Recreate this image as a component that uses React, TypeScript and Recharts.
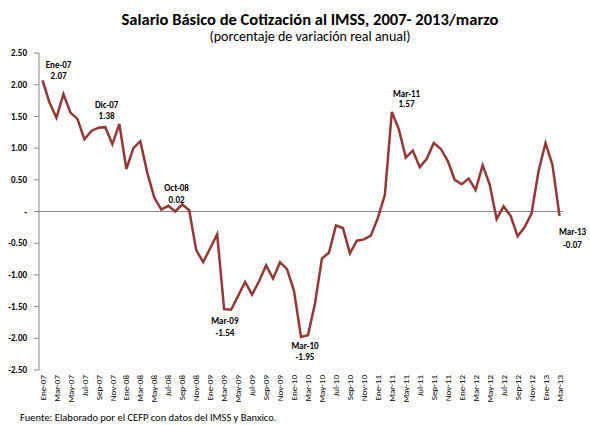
import React from "react";
import { LineChart, Line, XAxis, YAxis, ReferenceLine, LabelList } from "recharts";

const years = ["07", "08", "09", "10", "11", "12", "13"];
const monthNames = ["Ene", "Feb", "Mar", "Abr", "May", "Jun", "Jul", "Ago", "Sep", "Oct", "Nov", "Dic"];

const values2007 = [2.07, 1.72, 1.48, 1.85, 1.56, 1.46, 1.14, 1.27, 1.32, 1.33, 1.06, 1.38];
const values2008 = [0.67, 1.0, 1.11, 0.61, 0.22, 0.03, 0.09, 0.0, 0.11, 0.02, -0.61, -0.8];
const values2009 = [-0.58, -0.36, -1.54, -1.55, -1.33, -1.11, -1.31, -1.1, -0.85, -1.06, -0.8, -0.91];
const values2010 = [-1.25, -1.98, -1.95, -1.45, -0.74, -0.65, -0.22, -0.26, -0.66, -0.46, -0.44, -0.38];
const values2011 = [-0.1, 0.26, 1.57, 1.3, 0.85, 0.96, 0.7, 0.83, 1.08, 0.99, 0.8, 0.5];
const values2012 = [0.43, 0.52, 0.34, 0.73, 0.43, -0.12, 0.08, -0.07, -0.39, -0.25, -0.03, 0.64];
const values2013 = [1.08, 0.73, -0.07];

const yearValues = [values2007, values2008, values2009, values2010, values2011, values2012, values2013];

const yTicks = [2.5, 2.0, 1.5, 1.0, 0.5, 0, -0.5, -1.0, -1.5, -2.0, -2.5];

const labeledMonths = ["Ene-07", "Dic-07", "Oct-08", "Mar-09", "Mar-10", "Mar-11", "Mar-13"];

// label placement offsets (styling only)
const labelOffsets: Record<string, { dx: number; dy1: number; dy2: number }> = {
  "Ene-07": { dx: 16, dy1: -16, dy2: -5 },
  "Dic-07": { dx: -12.7, dy1: -20, dy2: -8.7 },
  "Oct-08": { dx: -12.6, dy1: -22.5, dy2: -11 },
  "Mar-09": { dx: 0.7, dy1: 11.6, dy2: 23 },
  "Mar-10": { dx: -3, dy1: 10.6, dy2: 21.6 },
  "Mar-11": { dx: 14.7, dy1: -18.7, dy2: -8 },
  "Mar-13": { dx: 13, dy1: 16, dy2: 28.4 },
};

const data: { month: string; value: number }[] = [];
yearValues.forEach((vals, yi) => {
  vals.forEach((v, mi) => {
    data.push({ month: `${monthNames[mi]}-${years[yi]}`, value: v });
  });
});

const FONT = "Carlito, Lato, 'Open Sans', sans-serif";
const LINE_COLOR = "#953735";
const AXIS_COLOR = "#868686";

const XTick = (props: any) => {
  const { x, y, payload } = props;
  return (
    <text
      x={x}
      y={y}
      transform={`rotate(-90, ${x}, ${y})`}
      textAnchor="end"
      dy="0.35em"
      fontSize={9}
      fontFamily={FONT}
      fill="#000"
    >
      {payload.value}
    </text>
  );
};

const renderPointLabel = (props: any) => {
  const { x, y, index } = props;
  const d = data[index];
  if (!d || !labeledMonths.includes(d.month)) return null;
  const o = labelOffsets[d.month];
  return (
    <g>
      <text
        x={x + o.dx}
        y={y + o.dy1}
        textAnchor="middle"
        dominantBaseline="central"
        fontSize={9}
        fontWeight="bold"
        fontFamily={FONT}
        fill="#000"
      >
        {d.month}
      </text>
      <text
        x={x + o.dx}
        y={y + o.dy2}
        textAnchor="middle"
        dominantBaseline="central"
        fontSize={9}
        fontWeight="bold"
        fontFamily={FONT}
        fill="#000"
      >
        {d.value.toFixed(2)}
      </text>
    </g>
  );
};

export default function App() {
  return (
    <div style={{ position: "absolute", left: 0, top: 0, width: 590, height: 425, background: "#fff", overflow: "hidden" }}>
      <div
        style={{
          position: "absolute",
          left: 0,
          top: 9,
          width: 620,
          textAlign: "center",
          fontFamily: FONT,
          fontWeight: "bold",
          fontSize: 16.5,
          color: "#000",
          whiteSpace: "nowrap",
        }}
      >
        Salario Básico de Cotización al IMSS, 2007- 2013/marzo
      </div>
      <div
        style={{
          position: "absolute",
          left: 0,
          top: 28,
          width: 620,
          textAlign: "center",
          fontFamily: FONT,
          fontSize: 14,
          color: "#000",
          whiteSpace: "nowrap",
        }}
      >
        (porcentaje de variación real anual)
      </div>
      <LineChart
        width={590}
        height={425}
        data={data}
        margin={{ top: 53, right: 27, bottom: 0, left: 0 }}
      >
        <XAxis
          dataKey="month"
          interval={1}
          axisLine={false}
          tickLine={false}
          tickSize={0}
          tickMargin={5}
          height={55}
          padding={{ left: 3.5, right: 3.5 }}
          tick={<XTick />}
        />
        <YAxis
          type="number"
          domain={[-2.5, 2.5]}
          ticks={yTicks}
          interval={0}
          width={39}
          axisLine={{ stroke: AXIS_COLOR }}
          tickLine={{ stroke: AXIS_COLOR }}
          tickSize={5}
          tickMargin={7}
          tickFormatter={(v: number) => (v === 0 ? "-" : v.toFixed(2))}
          tick={{ fontSize: 9, fontWeight: "bold", fontFamily: FONT, fill: "#000" }}
        />
        <ReferenceLine y={0} stroke={AXIS_COLOR} strokeWidth={1} />
        <Line
          type="linear"
          dataKey="value"
          stroke={LINE_COLOR}
          strokeWidth={2.5}
          dot={false}
          activeDot={false}
          isAnimationActive={false}
        >
          <LabelList dataKey="value" content={renderPointLabel} />
        </Line>
      </LineChart>
      <div
        style={{
          position: "absolute",
          left: 20,
          top: 411,
          fontFamily: FONT,
          fontSize: 10.5,
          lineHeight: "13px",
          color: "#000",
          whiteSpace: "nowrap",
        }}
      >
        Fuente: Elaborado por el CEFP con datos del IMSS y Banxico.
      </div>
    </div>
  );
}
